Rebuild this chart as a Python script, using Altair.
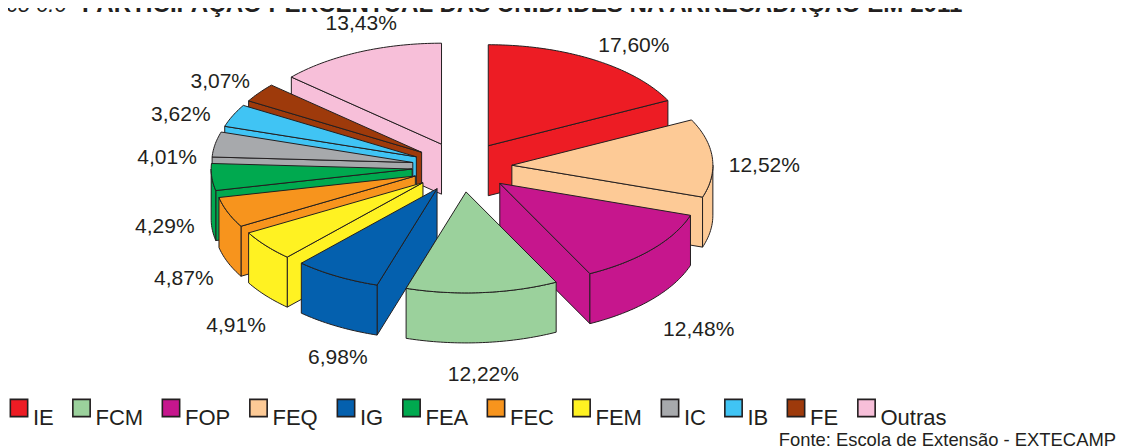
import math
import altair as alt
import pandas as pd

# values, clockwise from 12 o'clock
units = ["IE", "FEQ", "FOP", "FCM", "IG", "FEM", "FEC", "FEA", "IC", "IB", "FE", "Outras"]
shares = [17.60, 12.52, 12.48, 12.22, 6.98, 4.91, 4.87, 4.29, 4.01, 3.62, 3.07, 13.43]
legend_order = ["IE", "FCM", "FOP", "FEQ", "IG", "FEA", "FEC", "FEM", "IC", "IB", "FE", "Outras"]
colors = ["#ed1c24", "#9bd19c", "#c6168d", "#fdca96", "#0460ae", "#00a94f", "#f7941d", "#fff222",
          "#a7a9ac", "#40c4f4", "#9e3a0b", "#f7bfd9"]
paint_order = ["Outras", "IE", "FEQ", "FOP", "FE", "IB", "IC", "FEA", "FEC", "FEM", "IG", "FCM"]
title_lead = "Gráfico 6.6 - "
title_main = "PARTICIPAÇÃO PERCENTUAL DAS UNIDADES NA ARRECADAÇÃO EM 2011"
source = "Fonte: Escola de Extensão - EXTECAMP"

INK = "#231f20"
FONT = "Liberation Sans"
PAGE = 8                       # page margin
CX, CY = 462.0, 167.0          # pie centre
RX, RY = 201.0, 101.0          # ellipse radii of the top face
EX, EY = 50.0, 25.0            # explosion of every slice
DEPTH = 50.0
# label offset from the outer rim of each slice
label_nudge = {"IE": (40, -14), "FEQ": (52, 8), "FOP": (47, 31), "FCM": (1, 32), "IG": (1, 32),
               "FEM": (-30, 30), "FEC": (-44, 17), "FEA": (-47, 0), "IC": (-48, 14),
               "IB": (-52, -1), "FE": (-39, -11), "Outras": (2, -28)}


def rim(apex, deg, drop=0.0):
    t = math.radians(deg)
    return [apex[0] + RX * math.sin(t), apex[1] - RY * math.cos(t) + drop]


def feature(unit, ring):
    ring = [[round(x, 2), round(y, 2)] for x, y in ring]
    ring.append(ring[0])
    return {"type": "Feature", "properties": {"unit": unit},
            "geometry": {"type": "Polygon", "coordinates": [ring]}}


def arc_degrees(a, b):
    n = max(2, int(abs(b - a)) + 1)
    return [a + (b - a) * i / n for i in range(n + 1)]


faces = {}
labels = []
start = 0.0
for unit, share in zip(units, shares):
    end = start + share * 3.6
    mid = math.radians((start + end) / 2)
    apex = (CX + EX * math.sin(mid), CY - EY * math.cos(mid))
    low = (apex[0], apex[1] + DEPTH)
    parts = []
    if math.sin(math.radians(start)) < -1e-9:
        p = rim(apex, start)
        parts.append(feature(unit, [apex, p, [p[0], p[1] + DEPTH], low]))
    if math.sin(math.radians(end)) > 1e-9:
        p = rim(apex, end)
        parts.append(feature(unit, [apex, p, [p[0], p[1] + DEPTH], low]))
    a, b = max(start, 90.0), min(end, 270.0)
    if b > a:
        degs = arc_degrees(a, b)
        parts.append(feature(unit, [rim(apex, d) for d in degs] +
                             [rim(apex, d, DEPTH) for d in reversed(degs)]))
    parts.append(feature(unit, [apex] + [rim(apex, d) for d in arc_degrees(start, end)]))
    faces[unit] = parts

    m_deg = (start + end) / 2
    base = rim(apex, m_deg, DEPTH if 90 <= m_deg <= 270 else 0.0)
    nx, ny = label_nudge[unit]
    labels.append({"lx": base[0] + nx - PAGE, "ly": base[1] + ny - PAGE,
                   "txt": f"{share:.2f}%".replace(".", ",")})
    start = end

features = [f for u in paint_order for f in faces[u]]

pie = (
    alt.Chart(alt.Data(values=features))
    .mark_geoshape(stroke=INK, strokeWidth=1, strokeJoin="miter")
    .encode(
        color=alt.Color(
            "properties.unit:N",
            scale=alt.Scale(domain=legend_order, range=colors),
            legend=alt.Legend(
                orient="none", legendX=0, legendY=389, direction="horizontal", columns=12,
                title=None, symbolType="square", symbolSize=300, symbolStrokeColor=INK,
                symbolStrokeWidth=1.6, symbolOpacity=1, labelFont=FONT, labelFontSize=22,
                labelColor=INK, labelOffset=3, columnPadding=15.5, padding=0, labelLimit=200,
                labelBaseline="top",
            ),
        )
    )
    .project(type="identity", scale=1, translate=[-PAGE, -PAGE])
)

label_marks = (
    alt.Chart(pd.DataFrame(labels))
    .mark_text(font=FONT, fontSize=21, color=INK, align="center", baseline="middle")
    .encode(x=alt.X("lx:Q", scale=None), y=alt.Y("ly:Q", scale=None), text="txt:N")
)

title_a = (
    alt.Chart(pd.DataFrame({"t": [title_lead]}))
    .mark_text(font=FONT, fontSize=22, fontStyle="italic", color=INK, align="right", baseline="alphabetic")
    .encode(x=alt.value(72), y=alt.value(4), text="t:N")
)
title_b = (
    alt.Chart(pd.DataFrame({"t": [title_main]}))
    .mark_text(font=FONT, fontSize=24.1, fontWeight="bold", color=INK, align="left", baseline="alphabetic")
    .encode(x=alt.value(74), y=alt.value(4), text="t:N")
)
source_mark = (
    alt.Chart(pd.DataFrame({"t": [source]}))
    .mark_text(font=FONT, fontSize=18.4, color=INK, align="right", baseline="alphabetic")
    .encode(x=alt.value(1108), y=alt.value(438), text="t:N")
)

chart = (
    alt.layer(pie, label_marks, title_a, title_b, source_mark)
    .properties(width=1109, height=440, padding=0, autosize=alt.AutoSizeParams(type="none"),
                background="white")
    .configure_view(stroke=None)
)
chart.save("out.html", embed_options={"renderer": "svg", "actions": False})
